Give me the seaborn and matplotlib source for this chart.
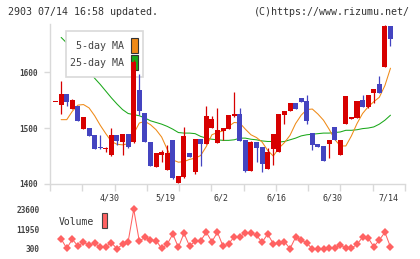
import numpy as np
import pandas as pd
import matplotlib
matplotlib.use('Agg')
import matplotlib.pyplot as plt
import seaborn as sns
from matplotlib.patches import Rectangle

# 日足 (2903)  index 0..60
opens = [1547, 1542, 1561, 1534, 1540, 1499, 1500, 1487, 1466, 1463,
         1451, 1488, 1475, 1489, 1475, 1568, 1527, 1475, 1430, 1451,
         1425, 1479, 1402, 1413, 1455, 1421, 1480, 1472, 1500, 1473,
         1495, 1499, 1521, 1525, 1478, 1423, 1475, 1466, 1426, 1463,
         1457, 1523, 1531, 1545, 1554, 1549, 1491, 1471, 1468, 1471,
         1502, 1451, 1507, 1516, 1518, 1550, 1537, 1563, 1579, 1610,
         1682]
closes = [1547, 1561, 1546, 1550, 1512, 1519, 1485, 1463, 1464, 1465,
          1487, 1477, 1489, 1467, 1618, 1530, 1475, 1433, 1455, 1458,
          1456, 1410, 1414, 1486, 1449, 1480, 1472, 1521, 1517, 1496,
          1500, 1523, 1525, 1477, 1424, 1475, 1464, 1436, 1457, 1489,
          1525, 1531, 1545, 1534, 1546, 1513, 1470, 1466, 1442, 1479,
          1479, 1479, 1557, 1520, 1548, 1538, 1559, 1570, 1563, 1682,
          1659]
highs = [1547, 1584, 1561, 1552, 1540, 1519, 1500, 1487, 1487, 1466,
         1500, 1488, 1489, 1489, 1622, 1596, 1527, 1475, 1455, 1461,
         1470, 1479, 1414, 1502, 1455, 1480, 1480, 1539, 1521, 1536,
         1500, 1523, 1564, 1536, 1478, 1477, 1475, 1466, 1464, 1489,
         1525, 1531, 1545, 1545, 1554, 1559, 1491, 1471, 1468, 1479,
         1502, 1479, 1557, 1520, 1548, 1559, 1559, 1570, 1593, 1684,
         1682]
lows = [1547, 1525, 1539, 1534, 1512, 1499, 1485, 1463, 1463, 1458,
        1450, 1470, 1451, 1465, 1474, 1523, 1475, 1433, 1430, 1440,
        1425, 1409, 1402, 1411, 1449, 1418, 1433, 1472, 1500, 1473,
        1478, 1499, 1519, 1477, 1421, 1423, 1439, 1421, 1426, 1434,
        1457, 1507, 1531, 1534, 1546, 1507, 1461, 1466, 1442, 1446,
        1479, 1451, 1507, 1516, 1518, 1538, 1535, 1544, 1563, 1610,
        1647]

# 移動平均・出来高 (index 1..60)
ma5 = [1515, 1515, 1530, 1541, 1542, 1536, 1522, 1505, 1490, 1476,
       1471, 1470, 1472, 1490, 1509, 1512, 1506, 1497, 1484, 1462,
       1443, 1439, 1440, 1444, 1446, 1451, 1467, 1488, 1492, 1495,
       1503, 1510, 1509, 1498, 1488, 1483, 1475, 1460, 1450, 1464,
       1474, 1487, 1508, 1523, 1533, 1534, 1525, 1514, 1498, 1480,
       1468, 1468, 1486, 1508, 1526, 1538, 1547, 1555, 1576, 1607]
ma25 = [1662, 1652, 1640, 1628, 1615, 1602, 1589, 1578, 1566, 1554,
        1543, 1533, 1526, 1524, 1522, 1518, 1513, 1510, 1507, 1503,
        1498, 1492, 1491, 1491, 1490, 1485, 1482, 1480, 1479, 1478,
        1478, 1479, 1482, 1482, 1480, 1479, 1477, 1476, 1476, 1475,
        1476, 1479, 1482, 1486, 1488, 1489, 1490, 1491, 1491, 1492,
        1493, 1496, 1496, 1497, 1499, 1500, 1502, 1507, 1514, 1523]
volume = [6170, 700, 6000, 2060, 4230, 2650, 3640, 1470, 1650, 4000,
          400, 3060, 4590, 23600, 4820, 7170, 5580, 5170, 700, 3060,
          9100, 1300, 9500, 2060, 4820, 5170, 10100, 4590, 10100, 1880,
          3240, 7520, 7340, 9870, 9870, 8340, 4230, 9100, 3410, 3820,
          4590, 480, 7170, 5580, 3820, 300, 300, 480, 700, 700,
          2820, 700, 700, 3060, 7170, 6760, 1650, 5580, 10100, 1470]

date_labels = ['4/30', '5/19', '6/2', '6/16', '6/30', '7/14']
date_idx = [10, 20, 30, 40, 50, 60]
price_ticks = [1400, 1500, 1600]
vol_ticks = [300, 11950, 23600]

RED = '#d70000'
BLUE = '#4444c0'
ORANGE = '#ef8a17'
GREEN = '#1aa81a'
VOLC = '#ff6262'
GRID = '#d9d9d9'
TXT = '#333333'
MONO = 'DejaVu Sans Mono'

sns.set_style('white')
plt.rcParams['font.family'] = [MONO, 'DejaVu Sans']

df = pd.DataFrame({'o': opens, 'h': highs, 'l': lows, 'c': closes})
df['i'] = np.arange(len(df))
ind = pd.DataFrame({'i': np.arange(1, len(df)), 'ma5': ma5, 'ma25': ma25, 'vol': volume})

fig = plt.figure(figsize=(4.2, 2.59), dpi=100)
W, H = 420, 259
ax = fig.add_axes([50 / W, 1 - 184 / H, 355 / W, 160 / H])
axv = fig.add_axes([50 / W, 1 - 253 / H, 355 / W, 48 / H])

xlim = (-1, 62.6)

# moving averages
sns.lineplot(data=ind, x='i', y='ma25', ax=ax, color=GREEN, linewidth=0.75, zorder=2)
sns.lineplot(data=ind, x='i', y='ma5', ax=ax, color=ORANGE, linewidth=0.75, zorder=2)

# legend box
ax.add_patch(Rectangle((66 / W, 1 - 77 / H), 77 / W, 46 / H, transform=fig.transFigure,
                       facecolor='white', edgecolor=GRID, linewidth=1.2, zorder=3))
fig.text(124.5 / W, 1 - 46 / H, '5-day MA', ha='right', va='center', fontsize=7.2, color='#444444', zorder=5)
fig.text(124.5 / W, 1 - 62.5 / H, '25-day MA', ha='right', va='center', fontsize=7.2, color='#444444', zorder=5)
for y0, col in [(52.5, ORANGE), (69.5, GREEN)]:
    ax.add_patch(Rectangle((131 / W, 1 - y0 / H), 6.5 / W, 15 / H, transform=fig.transFigure,
                           facecolor=col, edgecolor='#333333', linewidth=0.8, zorder=3.5))

# candles
up = df['c'] >= df['o']
colors = np.where(up, RED, BLUE)
ax.vlines(df['i'], df['l'], df['h'], colors=colors, linewidth=0.9, zorder=4)
body = (df['c'] - df['o']).abs().clip(lower=1.2)
ax.bar(df['i'], body, bottom=df[['o', 'c']].min(axis=1), width=0.9, color=colors,
       linewidth=0, zorder=4)

ax.set_xlim(*xlim)
ax.set_ylim(1400, 1686)
ax.set_xlabel('')
ax.set_ylabel('')
for s in ['top', 'right']:
    ax.spines[s].set_visible(False)
for s in ['left', 'bottom']:
    ax.spines[s].set_color(GRID)
    ax.spines[s].set_linewidth(1.0)
ax.set_yticks(price_ticks)
ax.set_yticklabels([str(t) for t in price_ticks])
ax.tick_params(axis='y', length=4, width=1.0, color=GRID, pad=5, labelsize=5.6,
               labelcolor='#444444', left=True)
for lab in ax.get_yticklabels():
    lab.set_fontweight('bold')
ax.set_xticks([d - 0.4 for d in date_idx])
ax.set_xticklabels(date_labels)
ax.set_xticks(np.linspace(xlim[0], xlim[1], 12), minor=True)
ax.tick_params(axis='x', which='major', length=0, pad=7, labelsize=6, labelcolor=TXT)
ax.tick_params(axis='x', which='minor', length=5, width=1.0, color=GRID, bottom=True)

# volume
sns.lineplot(data=ind, x='i', y='vol', ax=axv, color=VOLC, linewidth=0.75,
             marker='D', markersize=4.4, markeredgewidth=0, markerfacecolor=VOLC)
axv.set_xlim(*xlim)
axv.set_ylim(-2050, 26130)
axv.set_xticks([])
axv.set_xlabel('')
axv.set_ylabel('')
axv.set_yticks(vol_ticks)
axv.set_yticklabels([str(t) for t in vol_ticks])
axv.tick_params(axis='y', length=0, pad=7.5, labelsize=5.6, labelcolor='#444444')
for lab in axv.get_yticklabels():
    lab.set_fontweight('bold')
for s in axv.spines.values():
    s.set_visible(False)
axv.patch.set_alpha(0)

fig.text(58.5 / W, 1 - 222 / H, 'Volume', ha='left', va='center', fontsize=7, color=TXT)
fig.patches.append(Rectangle((101.7 / W, 1 - 228 / H), 5.6 / W, 15 / H, transform=fig.transFigure,
                             facecolor=VOLC, edgecolor='#444444', linewidth=0.8))

fig.text(8 / W, 1 - 12 / H, '2903 07/14 16:58 updated.', ha='left', va='center', fontsize=7.2, color=TXT)
fig.text(410 / W, 1 - 12 / H, '(C)https://www.rizumu.net/', ha='right', va='center', fontsize=7.2, color=TXT)

fig.savefig('out.png', dpi=100, facecolor='white')
